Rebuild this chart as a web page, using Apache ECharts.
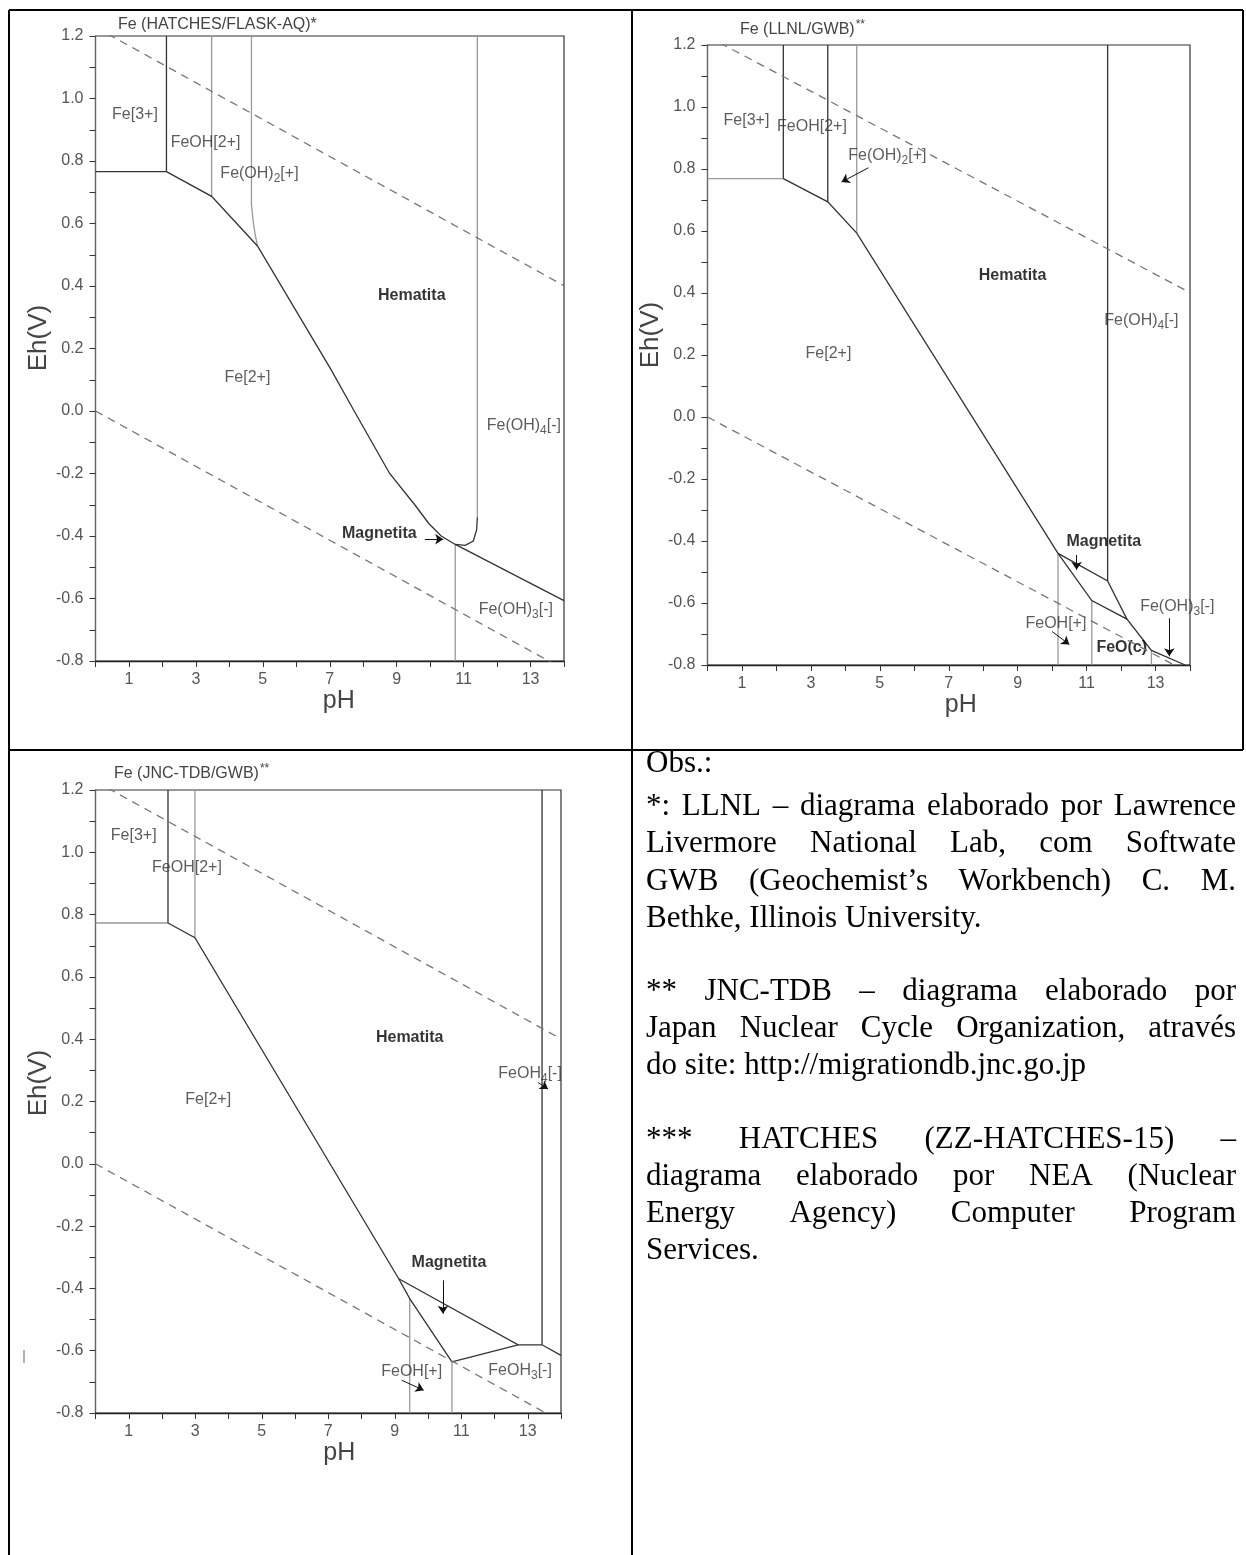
<!DOCTYPE html>
<html>
<head>
<meta charset="utf-8">
<script src="https://cdn.jsdelivr.net/npm/echarts@6/dist/echarts.min.js"></script>
<style>
  html, body { margin: 0; padding: 0; background: #fff; }
  #chart { width: 1246px; height: 1555px; }
</style>
</head>
<body>
<div id="chart"></div>
<script>
// ---- Axis ranges shared by the three Eh-pH diagrams ----
const PH_MIN = 0, PH_MAX = 14;
const EH_MIN = -0.8, EH_MAX = 1.2;

// ---- Water stability limits (O2/H2O above, H2O/H2 below) ----
const waterUpper = [[0, 1.228], [14, 0.401]];
const waterLower = [[0, 0], [14, -0.827]];

// ---- Fe (HATCHES/FLASK-AQ) ----
const hatchesDark = [
  [[0, 0.766], [2.12, 0.766]],
  [[2.12, 0.766], [2.12, 1.2]],
  [[2.12, 0.766], [3.47, 0.687], [4.84, 0.528], [7.03, 0.134], [7.73, 0.0], [8.79, -0.2],
   [9.54, -0.3], [9.96, -0.36], [10.33, -0.40], [10.75, -0.427], [11.05, -0.43],
   [11.29, -0.416], [11.39, -0.38], [11.41, -0.34]],
  [[10.75, -0.427], [14, -0.607]]
];
const hatchesGray = [
  [[3.47, 0.687], [3.47, 1.2]],
  [[4.66, 1.2], [4.66, 0.66], [4.72, 0.60], [4.78, 0.56], [4.84, 0.528]],
  [[11.41, -0.34], [11.41, 1.2]],
  [[10.75, -0.427], [10.75, -0.8]]
];
const hatchesLabels = [
  ['Fe[3+]', 1.18, 0.948],
  ['FeOH[2+]', 3.29, 0.86],
  ['Fe(OH){s|2}[+]', 4.9, 0.76],
  ['{b|Hematita}', 9.45, 0.37],
  ['Fe[2+]', 4.54, 0.107],
  ['Fe(OH){s|4}[-]', 12.8, -0.048],
  ['{b|Magnetita}', 8.48, -0.393],
  ['Fe(OH){s|3}[-]', 12.56, -0.637]
];
const hatchesArrows = [
  [[9.84, -0.41], [10.39, -0.41]]
];

// ---- Fe (LLNL/GWB) ----
const llnlDark = [
  [[2.2, 0.769], [2.2, 1.2]],
  [[2.2, 0.769], [3.49, 0.694], [4.33, 0.593], [10.17, -0.44]],
  [[3.49, 0.694], [3.49, 1.2]],
  [[11.61, -0.529], [11.61, 1.2]],
  [[10.17, -0.44], [11.61, -0.529], [12.17, -0.652]],
  [[10.17, -0.44], [11.15, -0.592], [12.17, -0.652], [12.88, -0.753], [13.86, -0.80]]
];
const llnlGray = [
  [[0, 0.769], [2.2, 0.769]],
  [[4.33, 0.593], [4.33, 1.2]],
  [[10.17, -0.44], [10.17, -0.8]],
  [[11.15, -0.592], [11.15, -0.8]],
  [[12.88, -0.753], [12.88, -0.8]]
];
const llnlLabels = [
  ['Fe[3+]', 1.13, 0.957],
  ['FeOH[2+]', 3.03, 0.936],
  ['Fe(OH){s|2}[+]', 5.22, 0.842],
  ['{b|Hematita}', 8.85, 0.456],
  ['Fe(OH){s|4}[-]', 12.59, 0.312],
  ['Fe[2+]', 3.51, 0.205],
  ['{b|Magnetita}', 11.5, -0.402],
  ['FeOH[+]', 10.11, -0.665],
  ['{b|FeO(c)}', 12.02, -0.745],
  ['Fe(OH){s|3}[-]', 13.63, -0.613]
];
const llnlArrows = [
  [[4.67, 0.804], [3.89, 0.758]],
  [[10.71, -0.445], [10.71, -0.493]],
  [[10.0, -0.692], [10.5, -0.734]],
  [[13.4, -0.649], [13.4, -0.772]]
];

// ---- Fe (JNC-TDB/GWB) ----
const jncDark = [
  [[2.18, 0.773], [2.18, 1.2]],
  [[2.18, 0.773], [2.99, 0.726], [9.12, -0.369], [9.45, -0.433], [10.72, -0.636]],
  [[9.12, -0.369], [12.71, -0.581], [13.43, -0.581], [14, -0.615]],
  [[13.43, -0.581], [13.43, 1.2]],
  [[10.72, -0.636], [12.71, -0.581]]
];
const jncGray = [
  [[0, 0.773], [2.18, 0.773]],
  [[2.99, 0.726], [2.99, 1.2]],
  [[9.45, -0.433], [9.45, -0.8]],
  [[10.72, -0.636], [10.72, -0.8]]
];
const jncLabels = [
  ['Fe[3+]', 1.15, 1.055],
  ['FeOH[2+]', 2.75, 0.95],
  ['{b|Hematita}', 9.45, 0.406],
  ['FeOH{s|4}[-]', 13.07, 0.288],
  ['Fe[2+]', 3.39, 0.207],
  ['{b|Magnetita}', 10.63, -0.316],
  ['FeOH[+]', 9.51, -0.668],
  ['FeOH{s|3}[-]', 12.77, -0.665]
];
const jncArrows = [
  [[13.31, 0.261], [13.61, 0.240]],
  [[10.45, -0.374], [10.45, -0.481]],
  [[9.21, -0.695], [9.87, -0.727]]
];

// ---- Diagram titles ----
const titles = [
  'Fe (HATCHES/FLASK-AQ)*',
  'Fe (LLNL/GWB){sup|**}',
  'Fe (JNC-TDB/GWB){sup|**}'
];

// ---- Notes in the lower-right cell ----
const noteLines = [
  ['Obs.:', false],
  ['*: LLNL – diagrama elaborado por Lawrence', true],
  ['Livermore National Lab, com Softwate', true],
  ['GWB (Geochemist’s Workbench) C. M.', true],
  ['Bethke, Illinois University.', false],
  ['** JNC-TDB – diagrama elaborado por', true],
  ['Japan Nuclear Cycle Organization, através', true],
  ['do site: http://migrationdb.jnc.go.jp', false],
  ['*** HATCHES (ZZ-HATCHES-15) –', true],
  ['diagrama elaborado por NEA (Nuclear', true],
  ['Energy Agency) Computer Program', true],
  ['Services.', false]
];

// ---------------- layout ----------------
const SANS = '"Liberation Sans", Arial, Helvetica, sans-serif';
const SERIF = '"Liberation Serif", "Times New Roman", serif';
const LABEL_SIZE = 16;

const layout = [
  { grid: { left: 95.5, top: 36, width: 468.5, height: 625 }, titlePos: { left: 113, top: 12 },
    ehGap: 40, ehPad: 21, phPad: 18 },
  { grid: { left: 707.5, top: 45, width: 482.5, height: 620 }, titlePos: { left: 735, top: 14 },
    ehGap: 36, ehPad: 40, phPad: 24 },
  { grid: { left: 95.5, top: 790, width: 465.5, height: 623 }, titlePos: { left: 109, top: 758 },
    ehGap: 40, ehPad: 37, phPad: 22 }
];

const diagrams = [
  { dark: hatchesDark, gray: hatchesGray, labels: hatchesLabels, arrows: hatchesArrows },
  { dark: llnlDark, gray: llnlGray, labels: llnlLabels, arrows: llnlArrows },
  { dark: jncDark, gray: jncGray, labels: jncLabels, arrows: jncArrows }
];

const grids = [], xAxes = [], yAxes = [], series = [], titleList = [];

diagrams.forEach((d, i) => {
  const L = layout[i];
  grids.push(Object.assign({
    show: true, borderColor: '#333', borderWidth: 1.2, backgroundColor: 'transparent',
    containLabel: false, outerBoundsMode: 'none'
  }, L.grid));

  xAxes.push({
    type: 'value', gridIndex: i, min: PH_MIN, max: PH_MAX, interval: 1,
    axisLine: { onZero: false, lineStyle: { color: '#222', width: 1.4 } },
    axisTick: { show: true, length: 6, lineStyle: { color: '#333', width: 1 } },
    axisLabel: {
      margin: 11, color: '#555', fontSize: LABEL_SIZE, fontFamily: SANS,
      formatter: v => (Math.round(v) % 2 === 1 ? String(Math.round(v)) : '')
    },
    splitLine: { show: false },
    name: 'pH', nameLocation: 'middle', nameGap: 26,
    nameTextStyle: { fontSize: 25, color: '#444', fontFamily: SANS, padding: [0, 0, 0, L.phPad] }
  });

  yAxes.push({
    type: 'value', gridIndex: i, min: EH_MIN, max: EH_MAX, interval: 0.1,
    axisLine: { onZero: false, lineStyle: { color: '#666', width: 1.2 } },
    axisTick: { show: true, length: 6, lineStyle: { color: '#333', width: 1 } },
    axisLabel: {
      margin: 12, color: '#555', fontSize: LABEL_SIZE, fontFamily: SANS,
      formatter: v => {
        const k = Math.round(v * 10);
        return k % 2 === 0 ? (k / 10).toFixed(1) : '';
      }
    },
    splitLine: { show: false },
    name: 'Eh(V)', nameLocation: 'middle', nameRotate: 90, nameGap: L.ehGap,
    nameTextStyle: { fontSize: 26, color: '#444', fontFamily: SANS, padding: [0, 0, 0, L.ehPad] }
  });

  titleList.push({
    text: titles[i], left: L.titlePos.left, top: L.titlePos.top,
    textStyle: {
      fontSize: 16, fontWeight: 'normal', color: '#444', fontFamily: SANS,
      rich: { sup: { fontSize: 12, color: '#444', fontFamily: SANS, padding: [0, 0, 10, 1] } }
    }
  });

  const axisRef = { xAxisIndex: i, yAxisIndex: i };

  // water limits
  [waterUpper, waterLower].forEach(w => series.push(Object.assign({
    type: 'line', data: w, symbol: 'none', clip: true, silent: true,
    lineStyle: { color: '#777', width: 1.3, type: [8, 6] }
  }, axisRef)));

  // domain boundaries
  series.push(Object.assign({
    type: 'lines', coordinateSystem: 'cartesian2d', polyline: true, silent: true,
    data: d.gray.map(c => ({ coords: c })),
    lineStyle: { color: '#999', width: 1.3, opacity: 1 }
  }, axisRef));
  series.push(Object.assign({
    type: 'lines', coordinateSystem: 'cartesian2d', polyline: true, silent: true,
    data: d.dark.map(c => ({ coords: c })),
    lineStyle: { color: '#333', width: 1.3, opacity: 1 }
  }, axisRef));

  // pointer arrows
  series.push(Object.assign({
    type: 'lines', coordinateSystem: 'cartesian2d', silent: true,
    symbol: ['none', 'arrow'], symbolSize: 8,
    data: d.arrows.map(c => ({ coords: c })),
    lineStyle: { color: '#111', width: 1, opacity: 1 }
  }, axisRef));

  // species names
  series.push(Object.assign({
    type: 'scatter', symbolSize: 0, silent: true,
    data: d.labels.map(([t, x, y]) => ({ name: t, value: [x, y] })),
    label: {
      show: true, position: 'inside', formatter: p => p.name,
      color: '#333', fontSize: LABEL_SIZE, fontFamily: SANS,
      rich: {
        s: { fontSize: 12, color: '#333', fontFamily: SANS, padding: [10, 0, 0, 0] },
        b: { fontSize: LABEL_SIZE, fontWeight: 'bold', color: '#000', fontFamily: SANS }
      }
    }
  }, axisRef));
});

// ---------------- table frame and notes ----------------
const graphic = [];
const frame = [
  [9, 10, 1243, 10],
  [9, 750, 1243, 750],
  [9, 10, 9, 1555],
  [632, 10, 632, 1555],
  [1243, 10, 1243, 750]
];
frame.forEach(([x1, y1, x2, y2]) => graphic.push({
  type: 'line', shape: { x1, y1, x2, y2 }, style: { stroke: '#000', lineWidth: 2 }, silent: true
}));
graphic.push({
  type: 'line', shape: { x1: 24, y1: 1350, x2: 24, y2: 1363 },
  style: { stroke: '#999', lineWidth: 1.5 }, silent: true
});

const NOTE_SIZE = 31;
const NOTE_LEFT = 646, NOTE_RIGHT = 1236;
const NOTE_Y = [764, 807, 844, 882, 919, 992, 1029, 1066, 1140, 1177, 1214, 1251];
const measureCtx = document.createElement('canvas').getContext('2d');
measureCtx.font = NOTE_SIZE + 'px ' + SERIF;

noteLines.forEach(([txt, justify], idx) => {
  const y = NOTE_Y[idx];
  const baseStyle = { fontSize: NOTE_SIZE, fontFamily: SERIF, fill: '#000', verticalAlign: 'middle', align: 'left' };
  if (!justify) {
    graphic.push({ type: 'text', x: NOTE_LEFT, y, silent: true, style: Object.assign({ text: txt }, baseStyle) });
    return;
  }
  const words = txt.split(' ');
  const widths = words.map(w => measureCtx.measureText(w).width);
  const total = widths.reduce((a, b) => a + b, 0);
  const gap = (NOTE_RIGHT - NOTE_LEFT - total) / (words.length - 1);
  let x = NOTE_LEFT;
  words.forEach((w, k) => {
    graphic.push({ type: 'text', x, y, silent: true, style: Object.assign({ text: w }, baseStyle) });
    x += widths[k] + gap;
  });
});

const chart = echarts.init(document.getElementById('chart'), null, { renderer: 'canvas' });
chart.setOption({
  animation: false,
  backgroundColor: '#fff',
  title: titleList,
  grid: grids,
  xAxis: xAxes,
  yAxis: yAxes,
  series,
  graphic
});
</script>
</body>
</html>
